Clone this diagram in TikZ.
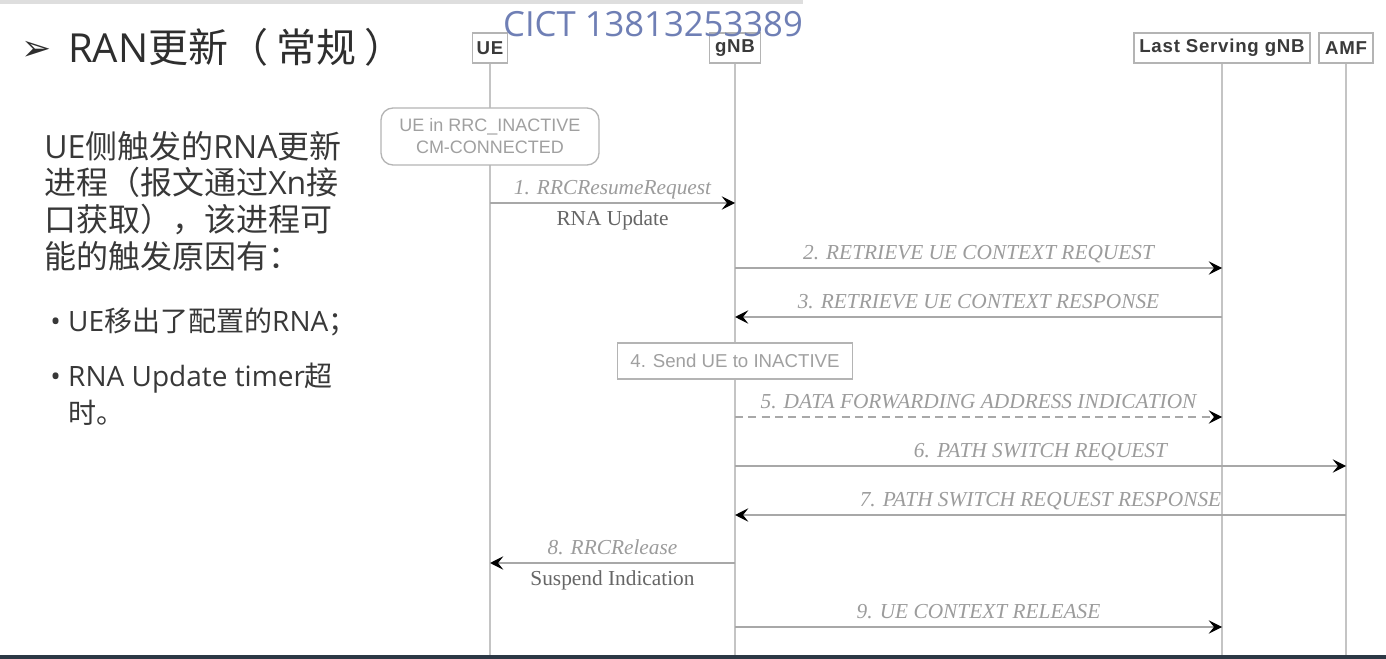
\documentclass[tikz,border=0pt]{standalone}
\usepackage{fontspec}
\setmainfont{Liberation Serif}
\newfontfamily\cjkfont{Noto Sans CJK SC}
\newfontfamily\latfont{Open Sans}
\newfontfamily\sansfont{Liberation Sans}
\newfontfamily\headfont[LetterSpace=4]{Liberation Sans}
\newfontfamily\symfont{DejaVu Sans}
\usetikzlibrary{arrows.meta,quotes,positioning}

\definecolor{lifegray}{HTML}{C4C4C4}
\definecolor{msggray}{HTML}{A8A8A8}
\definecolor{boxgray}{HTML}{B4B4B4}
\definecolor{headtext}{HTML}{3A3A3A}
\definecolor{lblgray}{HTML}{9C9C9C}
\definecolor{subgray}{HTML}{666666}
\definecolor{statetext}{HTML}{A0A0A0}
\definecolor{titletext}{HTML}{2E2E2E}
\definecolor{bodytext}{HTML}{383838}
\definecolor{wmblue}{HTML}{6F7FB5}
\definecolor{stripgray}{HTML}{DEDEDE}
\definecolor{botline}{HTML}{2C3845}

\newcommand{\ltn}[1]{{\latfont #1}}

\begin{document}
\begin{tikzpicture}[x=0.75pt,y=-0.75pt,
  head/.style={draw=boxgray, line width=1pt, fill=white, minimum height=22.5pt, inner sep=0pt, font=\headfont\bfseries\fontsize{14}{16}\selectfont, text=headtext},
  life/.style={draw=lifegray, line width=1.5pt},
  msg/.style={draw=msggray, line width=1.2pt, -{Stealth[length=10pt,width=10pt,inset=4pt,color=black]}},
  every edge quotes/.style={inner sep=1pt, text height=11pt, text depth=3pt},
  msgtop/.style={anchor=south, yshift=1.5pt, font=\itshape\fontsize{16}{18}\selectfont, text=lblgray},
  msgsub/.style={anchor=north, yshift=-4pt, font=\fontsize{16}{18}\selectfont, text=subgray},
  state/.style={draw=boxgray, line width=1pt, fill=white, rounded corners=9pt, minimum width=163.5pt, minimum height=42.75pt, align=center, font=\sansfont\fontsize{13.5}{16.5}\selectfont, text=statetext},
  act/.style={draw=boxgray, line width=1pt, fill=white, minimum width=176pt, minimum height=27pt, font=\sansfont\fontsize{14}{16}\selectfont, text=statetext}
]
\fill[white] (0,0) rectangle (1386,659);
\useasboundingbox (0,0) rectangle (1386,659);
\fill[stripgray] (0,0) rectangle (803,4);
\fill[botline] (0,655) rectangle (1386,659);

% slide title and text
\node[anchor=base west, inner sep=0pt, font=\symfont\fontsize{27}{30}\selectfont, text=titletext] (bullet) at (21,61) {➢};
\node[anchor=base west, inner sep=0pt, font=\cjkfont\fontsize{30}{36}\selectfont, text=titletext] (title) at (68,63) {\ltn{RAN}更新（\hspace{6pt}常规\hspace{6pt}）};
\node[anchor=north west, inner sep=0pt, align=left, font=\cjkfont\fontsize{24}{27.5}\selectfont, text=bodytext] (para) at (44,131)
  {\ltn{UE}侧触发的\ltn{RNA}更新\\进程（报文通过\ltn{Xn}接\\口获取），该进程可\\能的触发原因有：};
\node[anchor=north west, inner sep=0pt, align=left, font=\cjkfont\fontsize{21}{27.5}\selectfont, text=bodytext] (item1) at (50,308)
  {\makebox[13.5pt][l]{\latfont •}\ltn{UE}移出了配置的\ltn{RNA}；};
\node[anchor=north west, inner sep=0pt, align=left, font=\cjkfont\fontsize{21}{27.5}\selectfont, text=bodytext] (item2) at (50,363)
  {\makebox[13.5pt][l]{\latfont •}\ltn{RNA Update timer}超\\\hspace*{13.5pt}时。};

% lifelines
\node[head, minimum width=26.25pt] (ue) at (490,48) {UE};
\node[head, minimum width=38.25pt] (gnb) at (735,48) {gNB};
\node[head, minimum width=132pt] (last) at (1222,48) {Last Serving gNB};
\node[head, minimum width=40.5pt] (amf) at (1346,48) {AMF};
\coordinate (ue-end) at (490,655);
\coordinate (gnb-end) at (735,655);
\coordinate (last-end) at (1222,655);
\coordinate (amf-end) at (1346,655);
\draw[life] (ue) -- (ue-end);
\draw[life] (gnb) -- (gnb-end);
\draw[life] (last) -- (last-end);
\draw[life] (amf) -- (amf-end);

\node[anchor=base, inner sep=0pt, font=\latfont\fontsize{26}{30}\selectfont, text=wmblue] (wm) at (653,37) {CICT 13813253389};

\node[state] (uestate) at (490,136.5) {UE in RRC\_INACTIVE\\CM-CONNECTED};

% messages
\coordinate (ue1) at (490,203);   \coordinate (gnb1) at (735,203);
\coordinate (gnb2) at (735,268);  \coordinate (last2) at (1222,268);
\coordinate (gnb3) at (735,317);  \coordinate (last3) at (1222,317);
\coordinate (gnb5) at (735,417);  \coordinate (last5) at (1222,417);
\coordinate (gnb6) at (735,466);  \coordinate (amf6) at (1346,466);
\coordinate (gnb7) at (735,515);  \coordinate (amf7) at (1346,515);
\coordinate (gnb8) at (735,563);  \coordinate (ue8) at (490,563);
\coordinate (gnb9) at (735,627);  \coordinate (last9) at (1222,627);

\draw[msg] (ue1) to ["1. RRCResumeRequest" msgtop, "RNA Update" msgsub] (gnb1);
\draw[msg] (gnb2) to ["2. RETRIEVE UE CONTEXT REQUEST" msgtop] (last2);
\draw[msg] (last3) to ["3. RETRIEVE UE CONTEXT RESPONSE" msgtop] (gnb3);
\node[act] (send) at (735,361) {4. Send UE to INACTIVE};
\draw[msg, dash pattern=on 6pt off 4pt] (gnb5) to ["5. DATA FORWARDING ADDRESS INDICATION" msgtop] (last5);
\draw[msg] (gnb6) to ["6. PATH SWITCH REQUEST" msgtop] (amf6);
\draw[msg] (amf7) to ["7. PATH SWITCH REQUEST RESPONSE" msgtop] (gnb7);
\draw[msg] (gnb8) to ["8. RRCRelease" msgtop, "Suspend Indication" msgsub] (ue8);
\draw[msg] (gnb9) to ["9. UE CONTEXT RELEASE" msgtop] (last9);
\end{tikzpicture}
\end{document}
